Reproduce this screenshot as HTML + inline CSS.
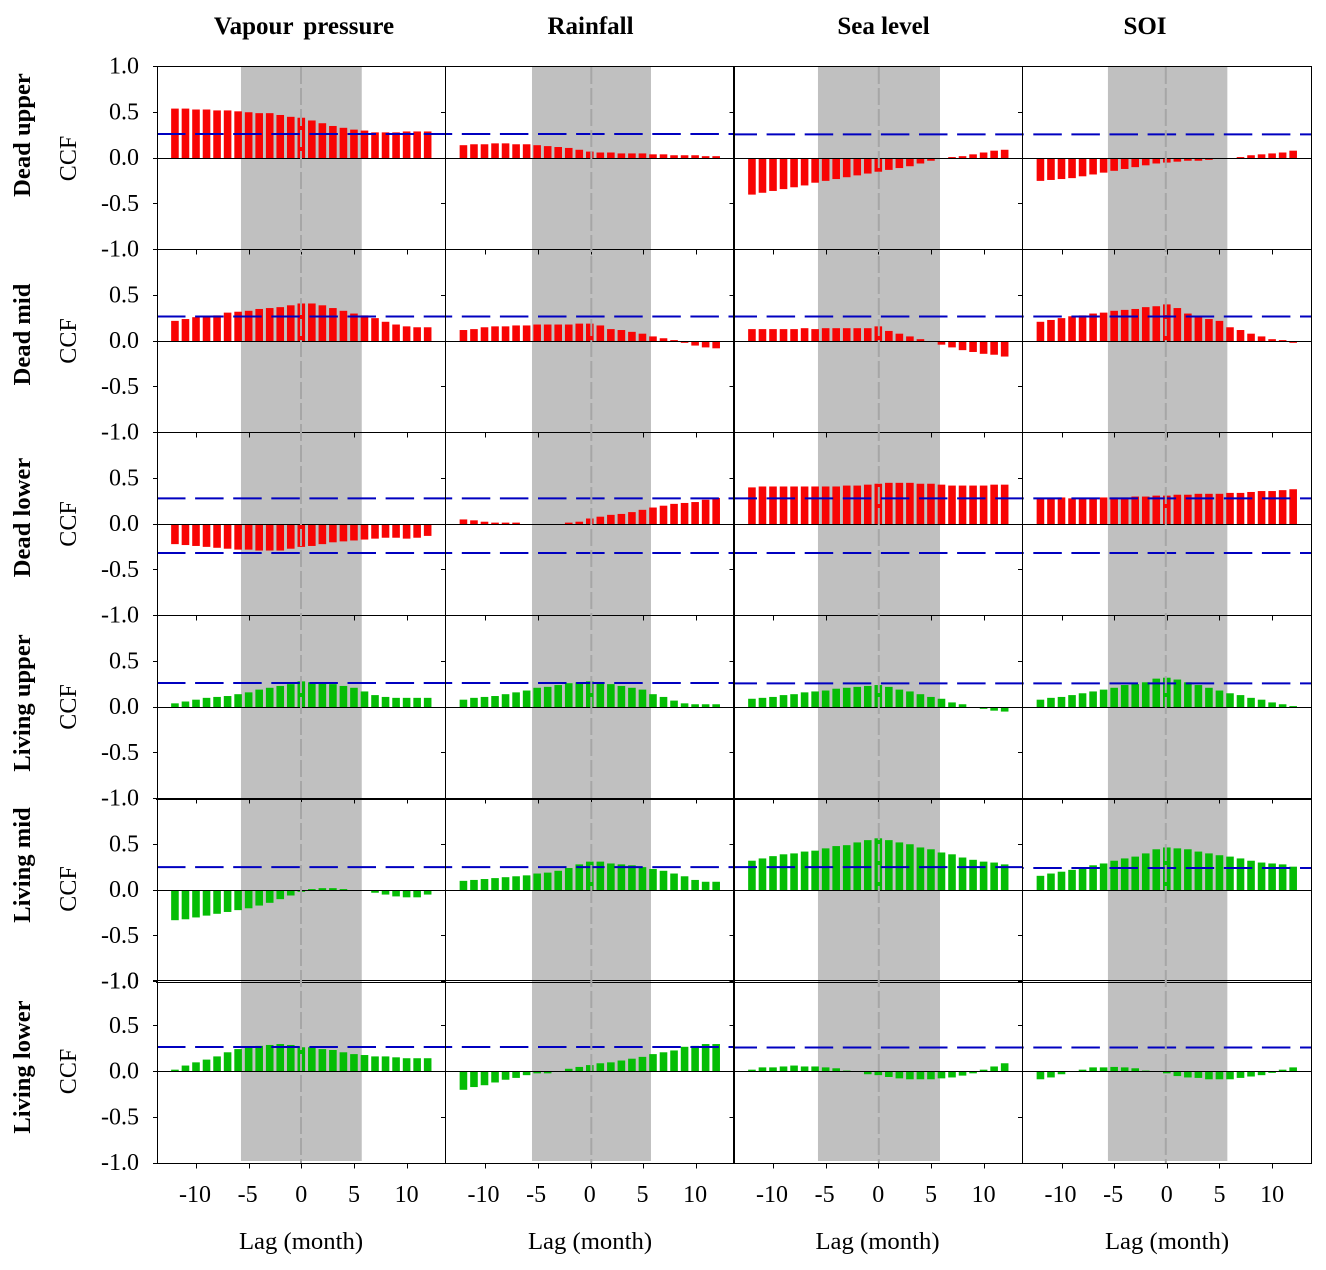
<!DOCTYPE html>
<html lang="en">
<head>
<meta charset="utf-8">
<title>Cross-correlation functions</title>
<style>
html,body{margin:0;padding:0;background:#fff;}
svg{display:block;font-family:"Liberation Serif",serif;}
.title{font-size:25px;font-weight:bold;text-anchor:middle;fill:#000;}
.rowlab{font-size:24.6px;font-weight:bold;text-anchor:middle;fill:#000;}
.ccf{font-size:24px;text-anchor:middle;fill:#000;}
.lag{font-size:24.7px;text-anchor:middle;fill:#000;}
.tick{font-size:24px;fill:#000;}
</style>
</head>
<body>
<svg id="chart" xmlns="http://www.w3.org/2000/svg" width="1326" height="1270" viewBox="0 0 1326 1270">
  <rect x="0" y="0" width="1326" height="1270" fill="#fff"/>
  <g id="bands"></g>
  <g id="bars"></g>
  <g id="limits"></g>
  <g id="frames"></g>
  <g id="zeros"></g>
  <g id="ticks"></g>

  <text class="title" x="304" y="34" word-spacing="4">Vapour pressure</text>
  <text class="title" x="590.5" y="34">Rainfall</text>
  <text class="title" x="883.5" y="34">Sea level</text>
  <text class="title" x="1145" y="34">SOI</text>

  <text class="rowlab" transform="translate(30,135) rotate(-90)">Dead upper</text>
  <text class="rowlab" transform="translate(30,334.5) rotate(-90)">Dead mid</text>
  <text class="rowlab" transform="translate(30,517.5) rotate(-90)">Dead lower</text>
  <text class="rowlab" transform="translate(30,703) rotate(-90)">Living upper</text>
  <text class="rowlab" transform="translate(30,865) rotate(-90)">Living mid</text>
  <text class="rowlab" transform="translate(30,1067) rotate(-90)">Living lower</text>

  <text class="ccf" transform="translate(76,158.5) rotate(-90)">CCF</text>
  <text class="ccf" transform="translate(76,341) rotate(-90)">CCF</text>
  <text class="ccf" transform="translate(76,524) rotate(-90)">CCF</text>
  <text class="ccf" transform="translate(76,707) rotate(-90)">CCF</text>
  <text class="ccf" transform="translate(76,889) rotate(-90)">CCF</text>
  <text class="ccf" transform="translate(76,1071.5) rotate(-90)">CCF</text>

  <text class="lag" x="301" y="1249">Lag (month)</text>
  <text class="lag" x="590" y="1249">Lag (month)</text>
  <text class="lag" x="877.5" y="1249">Lag (month)</text>
  <text class="lag" x="1167" y="1249">Lag (month)</text>
</svg>

<script>
// ---------- data ----------
const lags = [-12,-11,-10,-9,-8,-7,-6,-5,-4,-3,-2,-1,0,1,2,3,4,5,6,7,8,9,10,11,12];
const xTickValues = [-10,-5,0,5,10];
const yTickValues = [1,0.5,0,-0.5,-1];
const yTickLabels = ["1.0","0.5","0.0","-0.5","-1.0"];
const bandStartLags = [-5.73,-5.49,-5.73,-5.59];
const bandEndLags = [5.74,5.81,5.86,5.75];
const columnNames = ["vapour-pressure","rainfall","sea-level","soi"];
const rowNames = ["dead-upper","dead-mid","dead-lower","living-upper","living-mid","living-lower"];

const deadUpperVapour = [.54,.54,.53,.53,.52,.52,.51,.50,.49,.49,.47,.45,.44,.41,.38,.35,.33,.31,.30,.28,.28,.28,.29,.29,.29];
const deadUpperRain   = [.14,.15,.15,.16,.16,.15,.15,.14,.13,.12,.11,.09,.07,.06,.06,.05,.05,.05,.04,.04,.03,.03,.03,.02,.02];
const deadUpperSea    = [-.40,-.38,-.36,-.34,-.32,-.30,-.27,-.25,-.23,-.21,-.19,-.17,-.15,-.13,-.11,-.09,-.06,-.03,-.01,.01,.02,.04,.06,.08,.09];
const deadUpperSoi    = [-.25,-.24,-.23,-.22,-.20,-.18,-.16,-.14,-.12,-.10,-.08,-.06,-.05,-.04,-.03,-.03,-.02,-.01,0,.01,.03,.04,.05,.06,.08];

const deadMidVapour = [.22,.24,.26,.27,.28,.31,.32,.33,.35,.36,.37,.39,.41,.41,.39,.36,.33,.30,.28,.25,.21,.18,.16,.15,.15];
const deadMidRain   = [.12,.13,.15,.16,.16,.17,.17,.18,.18,.18,.18,.19,.19,.17,.13,.12,.10,.08,.05,.03,.01,-.02,-.05,-.07,-.08];
const deadMidSea    = [.13,.13,.13,.13,.13,.14,.13,.14,.14,.14,.14,.14,.16,.11,.08,.05,.02,-.01,-.04,-.07,-.10,-.12,-.14,-.15,-.17];
const deadMidSoi    = [.21,.23,.25,.27,.28,.30,.31,.33,.34,.35,.37,.38,.40,.36,.30,.26,.24,.22,.15,.12,.08,.05,.02,.01,-.02];

const deadLowerVapour = [-.22,-.23,-.24,-.25,-.26,-.27,-.28,-.28,-.29,-.29,-.29,-.27,-.25,-.24,-.22,-.20,-.19,-.18,-.17,-.16,-.15,-.15,-.16,-.15,-.13];
const deadLowerRain   = [.05,.04,.025,.015,.015,.015,0,-.01,-.01,0,.015,.025,.06,.08,.10,.11,.13,.155,.18,.20,.22,.23,.24,.265,.285];
const deadLowerSea    = [.40,.41,.41,.41,.41,.41,.41,.41,.41,.42,.42,.43,.44,.45,.45,.45,.44,.44,.43,.42,.42,.42,.42,.43,.43];
const deadLowerSoi    = [.28,.28,.29,.28,.28,.28,.29,.29,.29,.30,.30,.31,.31,.32,.32,.33,.33,.33,.34,.34,.35,.36,.36,.37,.38];

const livingUpperVapour = [.04,.06,.08,.10,.11,.12,.14,.16,.19,.21,.23,.25,.28,.27,.26,.25,.23,.21,.17,.13,.11,.10,.10,.10,.10];
const livingUpperRain   = [.08,.10,.11,.12,.14,.16,.18,.21,.22,.24,.26,.27,.28,.27,.25,.23,.21,.19,.14,.11,.07,.04,.03,.03,.03];
const livingUpperSea    = [.09,.10,.11,.13,.14,.16,.17,.18,.20,.21,.22,.23,.24,.22,.19,.17,.14,.11,.09,.05,.03,0,-.02,-.04,-.05];
const livingUpperSoi    = [.08,.10,.11,.13,.15,.17,.19,.21,.24,.25,.27,.31,.32,.30,.27,.24,.21,.18,.15,.13,.10,.08,.05,.03,.01];

const livingMidVapour = [-.33,-.32,-.30,-.28,-.26,-.24,-.22,-.20,-.17,-.14,-.10,-.06,-.02,.01,.02,.02,.01,0,0,-.03,-.05,-.07,-.08,-.08,-.05];
const livingMidRain   = [.10,.11,.12,.13,.14,.15,.16,.18,.19,.21,.24,.28,.31,.31,.29,.28,.27,.25,.23,.21,.18,.15,.11,.09,.09];
const livingMidSea    = [.32,.345,.37,.39,.40,.42,.43,.455,.48,.49,.52,.545,.565,.545,.52,.50,.465,.445,.41,.39,.355,.33,.31,.30,.28];
const livingMidSoi    = [.155,.18,.20,.22,.245,.27,.29,.32,.345,.365,.40,.445,.465,.455,.445,.42,.40,.38,.365,.345,.32,.30,.29,.28,.255];

const livingLowerVapour = [.02,.065,.10,.13,.165,.21,.245,.265,.28,.29,.30,.29,.265,.265,.245,.235,.21,.19,.18,.165,.165,.155,.145,.145,.145];
const livingLowerRain   = [-.20,-.17,-.15,-.12,-.09,-.07,-.04,-.02,-.02,0,.03,.05,.07,.09,.10,.12,.14,.16,.19,.21,.23,.27,.28,.30,.30];
const livingLowerSea    = [.02,.045,.045,.055,.065,.055,.055,.045,.035,.01,0,-.03,-.04,-.06,-.075,-.085,-.085,-.085,-.075,-.065,-.045,-.02,.02,.055,.09];
const livingLowerSoi    = [-.085,-.065,-.03,0,.02,.045,.045,.05,.045,.035,.01,0,-.02,-.05,-.065,-.07,-.085,-.085,-.085,-.07,-.055,-.04,-.015,.02,.045];

const panelSeries = [
  [deadUpperVapour, deadUpperRain, deadUpperSea, deadUpperSoi],
  [deadMidVapour, deadMidRain, deadMidSea, deadMidSoi],
  [deadLowerVapour, deadLowerRain, deadLowerSea, deadLowerSoi],
  [livingUpperVapour, livingUpperRain, livingUpperSea, livingUpperSoi],
  [livingMidVapour, livingMidRain, livingMidSea, livingMidSoi],
  [livingLowerVapour, livingLowerRain, livingLowerSea, livingLowerSoi]
];

// Upper significance limit per row and column; the dead-lower row also has a lower limit.
const upperLimits = [
  [.262,.262,.258,.258],
  [.268,.268,.268,.268],
  [.280,.280,.280,.280],
  [.262,.262,.258,.258],
  [.250,.250,.250,.240],
  [.268,.268,.262,.262]
];
const lowerLimits = [null,null,[-.317,-.317,-.317,-.317],null,null,null];

// ---------- axis functions ----------
const NS = "http://www.w3.org/2000/svg";
const RED = "#f80404", GREEN = "#05bd05", BLUE = "#0000c0", GREY = "#a6a6a6";
function colLeft(c){ return 156.5 + 288.5 * c; }
function rowZero(r){ return r === 5 ? 1071.5 : 158 + 183 * r; }
function rowTop(r){ return r === 5 ? 982 : rowZero(r) - 91.5; }
function rowBottom(r){ return r === 5 ? 1163 : r === 4 ? 980 : rowZero(r) + 91.5; }
function xScale(c, lag){ return colLeft(c) + 144.8 + lag * 10.53; }
function yScale(r, v){ return rowZero(r) - v * 91.5; }
function mk(parent, tag, attrs){
  const el = document.createElementNS(NS, tag);
  for (const k in attrs) el.setAttribute(k, attrs[k]);
  parent.appendChild(el);
  return el;
}

const gBands = document.getElementById("bands");
const gBars = document.getElementById("bars");
const gLimits = document.getElementById("limits");
const gFrames = document.getElementById("frames");
const gZeros = document.getElementById("zeros");
const gTicks = document.getElementById("ticks");

const chartRight = 1311.5;
const rightEdges = [colLeft(1), colLeft(2), colLeft(3), chartRight];
const guideShift = [-0.3, 1.5, 0.5, -1];

columnNames.forEach(function(colName, c){
  // shaded band
  const x0 = xScale(c, bandStartLags[c]);
  const x1 = xScale(c, bandEndLags[c]);
  const band = mk(gBands, "rect", {x:x0, y:67, width:x1-x0, height:1094, fill:"#c0c0c0"});
  
  

  // lag-zero dashed line
  const zl = mk(gZeros, "line", {x1:xScale(c,0)+guideShift[c], x2:xScale(c,0)+guideShift[c], y1:67, y2:1163, stroke:GREY, "stroke-width":2, "stroke-dasharray":"17 4"});
  
  

  // x tick labels
  xTickValues.forEach(function(t){
    const lab = mk(gTicks, "text", {class:"tick", x:xScale(c,t)-(t<0?1:0), y:1202, "text-anchor":"middle"});
    lab.textContent = String(t);
    
    
  });
});

rowNames.forEach(function(rowName, r){
  const color = r < 3 ? RED : GREEN;
  columnNames.forEach(function(colName, c){
    const series = panelSeries[r][c];
    lags.forEach(function(lag, i){
      const v = series[i];
      if (v === 0) return;
      const y = yScale(r, Math.max(v, 0));
      const h = Math.abs(yScale(r, v) - yScale(r, 0));
      const bar = mk(gBars, "rect", {x:xScale(c,lag)-3.8, y:y, width:7.6, height:h, fill:color});
      
      
    });

    // significance limits
    const left = colLeft(c), right = rightEdges[c];
    const dashPhase = (left - 157) % 38.1;
    const upper = mk(gLimits, "line", {x1:left, x2:right, y1:yScale(r,upperLimits[r][c]), y2:yScale(r,upperLimits[r][c]), stroke:BLUE, "stroke-width":2, "stroke-dasharray":"28.5 9.6", "stroke-dashoffset":dashPhase});
    
    
    if (lowerLimits[r]) {
      const lower = mk(gLimits, "line", {x1:left, x2:right, y1:yScale(r,lowerLimits[r][c]), y2:yScale(r,lowerLimits[r][c]), stroke:BLUE, "stroke-width":2, "stroke-dasharray":"28.5 9.6", "stroke-dashoffset":dashPhase});
      
      
    }

    // y ticks on each column's left axis
    const axisX = Math.round(left + 0.1) + (c === 2 ? 0 : 0.5);
    yTickValues.forEach(function(t){
      const ty = Math.floor(yScale(r,t)) + 0.5;
      const tick = mk(gFrames, "line", {x1:axisX-4.5, x2:axisX, y1:ty, y2:ty, stroke:"#000", "stroke-width":1});
      
      
    });

    // x ticks under each row
    if (r !== 4) {
      xTickValues.forEach(function(t){
        const tx = Math.round(xScale(c,t) + (c === 1 ? 1 : 0)) + 0.5;
        const by = Math.floor(rowBottom(r)) + 1;
        const tick = mk(gFrames, "line", {x1:tx, x2:tx, y1:by, y2:by+4.5, stroke:"#000", "stroke-width":1});
        
        
      });
    }
  });

  // zero line
  const zy = Math.floor(rowZero(r)) + 0.5;
  const zero = mk(gFrames, "line", {x1:156, x2:chartRight, y1:zy, y2:zy, stroke:"#000", "stroke-width":1});
  
  

  // row top line
  const thick = r === 4;
  const ty = thick ? 799 : Math.floor(rowTop(r)) + 0.5;
  const top = mk(gFrames, "line", {x1:156, x2:chartRight, y1:ty, y2:ty, stroke:"#000", "stroke-width":thick ? 2 : 1});
  
  

  // y tick labels
  yTickValues.forEach(function(t, k){
    if (t === 1 && r !== 0 && r !== 5) return;
    const base = t === 1 ? rowTop(r) - (r === 5 ? 0.5 : 0) : (t === -1 ? rowBottom(r) + (r === 4 ? 1.5 : 0) : yScale(r, t));
    const lab = mk(gTicks, "text", {class:"tick", x:139, y:base + 7, "text-anchor":"end"});
    lab.textContent = yTickLabels[k];
    
    
  });
});

// extra frame lines
const bottomInner = mk(gFrames, "line", {x1:156, x2:chartRight, y1:980.5, y2:980.5, stroke:"#000", "stroke-width":1});


const bottomOuter = mk(gFrames, "line", {x1:156, x2:chartRight, y1:1163.5, y2:1163.5, stroke:"#000", "stroke-width":1});



columnNames.forEach(function(colName, c){
  const ax = Math.round(colLeft(c) + 0.1) + (c === 2 ? 0 : 0.5);
  const axis = mk(gFrames, "line", {x1:ax, x2:ax, y1:66, y2:1164, stroke:"#000", "stroke-width":c === 2 ? 2 : 1});
  
  
});
const rightAxis = mk(gFrames, "line", {x1:chartRight, x2:chartRight, y1:66, y2:1164, stroke:"#000", "stroke-width":1});


</script>
</body>
</html>
